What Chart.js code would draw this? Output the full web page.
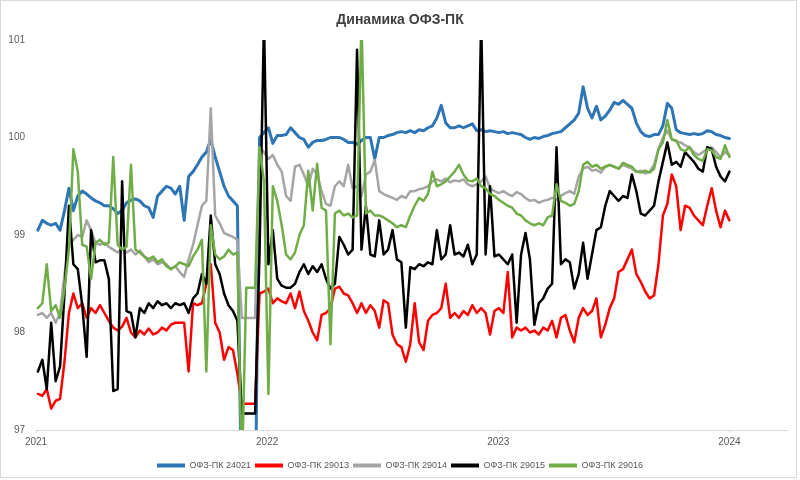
<!DOCTYPE html>
<html>
<head>
<meta charset="utf-8">
<script src="https://cdn.jsdelivr.net/npm/chart.js@4/dist/chart.umd.min.js"></script>
<style>
html,body{margin:0;padding:0;background:#fff;}
#wrap{width:800px;height:480px;}
</style>
</head>
<body>
<div id="wrap"><canvas id="c" width="800" height="480"></canvas></div>
<script>
const titleText = "Динамика ОФЗ-ПК";
const seriesNames = ["ОФЗ-ПК 24021", "ОФЗ-ПК 29013", "ОФЗ-ПК 29014", "ОФЗ-ПК 29015", "ОФЗ-ПК 29016"];
const yearTickDates = ["2021-01-01", "2022-01-01", "2023-01-01", "2024-01-01"];
const yearTickLabels = ["2021", "2022", "2023", "2024"];
const axisStart = "2021-01-01";
const axisLineEnd = "2024-04-03";
const axisEnd = "2024-04-12";

const dates = [
"2021-01-04","2021-01-11","2021-01-18","2021-01-25","2021-02-01","2021-02-08","2021-02-15","2021-02-22","2021-03-01","2021-03-08",
"2021-03-15","2021-03-22","2021-03-29","2021-04-05","2021-04-12","2021-04-19","2021-04-26","2021-05-03","2021-05-10","2021-05-17",
"2021-05-24","2021-05-31","2021-06-07","2021-06-14","2021-06-21","2021-06-28","2021-07-05","2021-07-12","2021-07-19","2021-07-26",
"2021-08-02","2021-08-09","2021-08-16","2021-08-23","2021-08-30","2021-09-06","2021-09-13","2021-09-20","2021-09-27","2021-10-04",
"2021-10-11","2021-10-18","2021-10-25","2021-11-01","2021-11-08","2021-11-15","2021-11-22","2021-11-29","2021-12-06","2021-12-13",
"2021-12-20","2021-12-27",
"2022-01-03","2022-01-10","2022-01-17","2022-01-24","2022-01-31","2022-02-07","2022-02-14","2022-02-21","2022-02-28","2022-03-07",
"2022-03-14","2022-03-21","2022-03-28","2022-04-04","2022-04-11","2022-04-18","2022-04-25","2022-05-02","2022-05-09","2022-05-16",
"2022-05-23","2022-05-30","2022-06-06","2022-06-13","2022-06-20","2022-06-27","2022-07-04","2022-07-11","2022-07-18","2022-07-25",
"2022-08-01","2022-08-08","2022-08-15","2022-08-22","2022-08-29","2022-09-05","2022-09-12","2022-09-19","2022-09-26","2022-10-03",
"2022-10-10","2022-10-17","2022-10-24","2022-10-31","2022-11-07","2022-11-14","2022-11-21","2022-11-28","2022-12-05","2022-12-12",
"2022-12-19","2022-12-26",
"2023-01-02","2023-01-09","2023-01-16","2023-01-23","2023-01-30","2023-02-06","2023-02-13","2023-02-20","2023-02-27","2023-03-06",
"2023-03-13","2023-03-20","2023-03-27","2023-04-03","2023-04-10","2023-04-17","2023-04-24","2023-05-01","2023-05-08","2023-05-15",
"2023-05-22","2023-05-29","2023-06-05","2023-06-12","2023-06-19","2023-06-26","2023-07-03","2023-07-10","2023-07-17","2023-07-24",
"2023-07-31","2023-08-07","2023-08-14","2023-08-21","2023-08-28","2023-09-04","2023-09-11","2023-09-18","2023-09-25","2023-10-02",
"2023-10-09","2023-10-16","2023-10-23","2023-10-30","2023-11-06","2023-11-13","2023-11-20","2023-11-27","2023-12-04","2023-12-11",
"2023-12-18","2023-12-25",
"2024-01-01"
];

const ofz24021 = [
99.05, 99.15, 99.12, 99.1, 99.12, 99.05, 99.25, 99.48, 99.25, 99.4,
99.45, 99.42, 99.38, 99.35, 99.33, 99.3, 99.3, 99.27, 99.22, 99.25,
99.33, 99.36, 99.37, 99.35, 99.3, 99.28, 99.18, 99.4, 99.45, 99.5,
99.48, 99.42, 99.5, 99.15, 99.6, 99.65, 99.72, 99.8, 99.85, 99.98,
99.8, 99.65, 99.5, 99.4, 99.35, 99.3, 96, 96, 96, 96,
100.0, 100.05, 100.1, 99.94, 100.02, 100.02, 100.03, 100.1, 100.05, 100.0,
99.98, 99.9, 99.95, 99.97, 99.97, 99.98, 100.0, 100.0, 100.0, 99.98,
99.95, 99.95, 99.93, 99.97, 100.0, 100.0, 99.78, 100.0, 100.0, 100.02,
100.03, 100.05, 100.06, 100.05, 100.07, 100.05, 100.08, 100.07, 100.1, 100.12,
100.2, 100.33, 100.15, 100.1, 100.1, 100.12, 100.1, 100.12, 100.14, 100.07,
100.08, 100.06, 100.07, 100.06, 100.05, 100.06, 100.04, 100.05, 100.04, 100.03,
100.0, 99.98, 100.0, 99.99, 100.01, 100.02, 100.04, 100.05, 100.06, 100.1,
100.14, 100.18, 100.25, 100.52, 100.3, 100.2, 100.32, 100.18, 100.22, 100.28,
100.36, 100.34, 100.38, 100.34, 100.3, 100.15, 100.06, 100.02, 100.01, 100.03,
100.03, 100.12, 100.35, 100.3, 100.08, 100.05, 100.04, 100.03, 100.04, 100.03,
100.04, 100.07, 100.06, 100.03, 100.02, 100.0, 99.99
];

const ofz29013 = [
97.37, 97.35, 97.42, 97.22, 97.3, 97.32, 97.7, 98.2, 98.4, 98.25,
98.3, 98.15, 98.25, 98.2, 98.28, 98.2, 98.12, 98.05, 98.02, 98.06,
98.15, 98.0, 97.95, 98.02, 97.98, 98.04, 97.98, 98.0, 98.05, 98.02,
98.08, 98.1, 98.1, 98.1, 97.6, 98.3, 98.28, 98.3, 98.5, 98.7,
98.1, 98.0, 97.72, 97.85, 97.82, 97.58, 97.27, 97.27, 97.27, 97.27,
98.4, 98.42, 98.45, 98.3, 98.35, 98.32, 98.3, 98.4, 98.25, 98.42,
98.22, 98.12, 98.0, 97.92, 98.18, 98.2, 98.25, 98.45, 98.47, 98.4,
98.38, 98.3, 98.2, 98.3, 98.2, 98.28, 98.22, 98.05, 98.33, 98.3,
97.98, 97.88, 97.85, 97.7, 97.88, 98.3, 97.9, 97.82, 98.12, 98.18,
98.2, 98.25, 98.5, 98.15, 98.2, 98.15, 98.22, 98.18, 98.28, 98.2,
98.25, 98.2, 97.98, 98.22, 98.25, 98.2, 98.62, 97.95, 98.05, 98.02,
98.05, 98.0, 98.02, 97.98, 98.05, 98.02, 98.12, 97.95, 98.15, 98.18,
98.02, 97.9, 98.15, 98.25, 98.18, 98.22, 98.35, 97.95, 98.08, 98.25,
98.35, 98.62, 98.65, 98.75, 98.85, 98.6, 98.52, 98.42, 98.35, 98.38,
98.7, 99.2, 99.32, 99.62, 99.5, 99.05, 99.3, 99.28, 99.2, 99.15,
99.1, 99.3, 99.48, 99.25, 99.08, 99.25, 99.15
];

const ofz29014 = [
98.18, 98.2, 98.15, 98.2, 98.1, 98.2, 98.6, 98.9, 98.95, 99.0,
98.98, 99.15, 99.05, 98.92, 98.9, 98.92, 98.88, 98.85, 98.82, 98.86,
98.82, 98.85, 98.8, 98.84, 98.78, 98.72, 98.75, 98.7, 98.72, 98.7,
98.65, 98.68, 98.62, 98.57, 98.75, 98.9, 99.1, 99.3, 99.35, 100.3,
99.2, 99.12, 99.02, 99.0, 98.98, 98.95, 98.15, 98.15, 98.15, 98.15,
99.9, 99.85, 99.78, 99.82, 99.72, 99.65, 99.4, 99.35, 99.7, 99.72,
99.62, 99.5, 99.68, 99.62, 99.45, 99.32, 99.3, 99.5, 99.55, 99.5,
99.72, 99.48, 99.5, 99.4, 99.62, 99.65, 99.77, 99.45, 99.42, 99.4,
99.38, 99.36, 99.4, 99.38, 99.45, 99.45, 99.47, 99.48, 99.5, 99.55,
99.57, 99.55, 99.58, 99.54, 99.56, 99.55, 99.57, 99.52, 99.5, 99.52,
99.55, 99.6, 99.48, 99.45, 99.43, 99.45, 99.42, 99.4, 99.44, 99.42,
99.38, 99.35, 99.36, 99.33, 99.35, 99.36, 99.38, 99.36, 99.4, 99.43,
99.45, 99.42, 99.6, 99.68, 99.7, 99.66, 99.67, 99.64, 99.7, 99.72,
99.7, 99.68, 99.72, 99.7, 99.68, 99.65, 99.66, 99.63, 99.65, 99.72,
99.88, 100.0, 100.07, 99.98, 99.96, 99.95, 99.92, 99.9, 99.85, 99.82,
99.85, 99.88, 99.9, 99.85, 99.8, 99.85, 99.82
];

const ofz29015 = [
97.6, 97.72, 97.42, 98.1, 97.5, 97.65, 98.4, 99.3, 98.7, 98.65,
98.28, 97.75, 99.05, 98.72, 98.74, 98.74, 98.55, 97.4, 97.42, 99.55,
98.22, 98.2, 97.95, 98.25, 98.2, 98.3, 98.25, 98.32, 98.28, 98.3,
98.25, 98.3, 98.28, 98.3, 98.2, 98.35, 98.4, 98.6, 98.5, 99.2,
98.7, 98.6, 98.4, 98.28, 98.22, 98.12, 97.17, 97.17, 97.17, 97.17,
98.82, 101.2, 98.7, 99.05, 98.55, 98.48, 98.46, 98.46, 98.5, 98.62,
98.7, 98.6, 98.68, 98.62, 98.7, 98.55, 98.45, 98.5, 98.98, 98.9,
98.8, 98.85, 100.9, 98.85, 99.3, 98.8, 98.78, 99.15, 98.8, 98.85,
99.05, 98.75, 98.72, 98.05, 98.67, 98.65, 98.7, 98.68, 98.72, 98.7,
99.05, 98.75, 98.8, 99.1, 98.8, 98.82, 98.78, 98.9, 98.7, 98.8,
101.2, 98.8, 99.5, 98.78, 98.8, 98.75, 98.7, 98.8, 98.1, 98.8,
99.02, 98.75, 98.08, 98.3, 98.35, 98.45, 98.5, 99.9, 98.7, 98.75,
98.72, 98.45, 98.6, 98.92, 98.55, 98.8, 99.05, 99.08, 99.3, 99.45,
99.4, 99.35, 99.4, 99.38, 99.62, 99.45, 99.22, 99.2, 99.25, 99.3,
99.55, 99.75, 99.95, 99.72, 99.75, 99.7, 99.85, 99.8, 99.75, 99.68,
99.65, 99.9, 99.88, 99.7, 99.6, 99.55, 99.65
];

const ofz29016 = [
98.25, 98.3, 98.7, 98.22, 98.28, 98.15, 98.45, 98.85, 99.88, 99.65,
98.9, 98.88, 98.55, 98.92, 98.95, 98.9, 98.92, 99.8, 98.9, 98.85,
98.88, 99.72, 98.85, 98.82, 98.78, 98.75, 98.78, 98.72, 98.75, 98.68,
98.65, 98.68, 98.72, 98.7, 98.68, 98.78, 98.85, 98.95, 97.6, 99.1,
98.8, 98.75, 98.78, 98.85, 98.8, 98.82, 96.5, 98.46, 98.46, 98.46,
99.9, 99.55, 97.37, 99.5, 99.35, 99.1, 98.8, 98.75, 98.82, 99.0,
99.1, 99.66, 99.25, 99.73, 99.28, 99.25, 97.88, 99.22, 99.25, 99.2,
99.22, 99.18, 99.2, 101.2, 99.22, 99.25, 99.2, 99.2, 99.18, 99.15,
99.12, 99.08, 99.1, 99.08, 99.2, 99.3, 99.38, 99.35, 99.42, 99.65,
99.5, 99.52, 99.55, 99.6, 99.65, 99.72, 99.62, 99.56, 99.55, 99.58,
99.5, 99.48, 99.42, 99.4, 99.36, 99.33, 99.3, 99.28, 99.22, 99.2,
99.15, 99.12, 99.1, 99.12, 99.1, 99.18, 99.2, 99.52, 99.35, 99.33,
99.3, 99.32, 99.45, 99.72, 99.75, 99.7, 99.72, 99.68, 99.7, 99.72,
99.7, 99.68, 99.74, 99.72, 99.7, 99.65, 99.64, 99.66, 99.64, 99.68,
99.88, 99.95, 100.18, 99.98, 99.97, 99.88, 99.86, 99.9, 99.82, 99.78,
99.76, 99.88, 99.87, 99.8, 99.78, 99.92, 99.8
];

const seriesValues = [ofz24021, ofz29013, ofz29014, ofz29015, ofz29016];
const seriesColors = ["#2E75B6", "#FF0000", "#A5A5A5", "#000000", "#70AD47"];
const seriesWidths = [3, 2.5, 2.5, 2.5, 2.5];

const xs = dates.map(d => Date.parse(d));
const tickVals = yearTickDates.map(d => Date.parse(d));

const datasets = seriesNames.map((name, k) => ({
  label: name,
  data: seriesValues[k].map((v, i) => ({x: xs[i], y: v})),
  borderColor: seriesColors[k],
  backgroundColor: seriesColors[k],
  borderWidth: seriesWidths[k],
  pointRadius: 0,
  pointHoverRadius: 0,
  tension: 0,
  fill: false,
  borderJoinStyle: 'round',
  borderCapStyle: 'round',
  clip: 0,
  order: seriesNames.length - k
}));

const frame = {
  id: 'frame',
  beforeDatasetsDraw(chart) {
    const ctx = chart.ctx;
    const xs = chart.scales.x;
    const y = Math.round(chart.chartArea.bottom) + 0.5;
    ctx.save();
    ctx.strokeStyle = '#d9d9d9';
    ctx.lineWidth = 1;
    ctx.beginPath();
    ctx.moveTo(chart.chartArea.left, y);
    ctx.lineTo(xs.getPixelForValue(Date.parse(axisLineEnd)), y);
    ctx.stroke();
    ctx.restore();
  },
  afterDraw(chart) {
    const ctx = chart.ctx;
    ctx.save();
    ctx.strokeStyle = '#d9d9d9';
    ctx.lineWidth = 1;
    ctx.strokeRect(0.5, 0.5, 796, 477);
    ctx.restore();
  }
};

const FONT = "'Liberation Sans', Arial, sans-serif";

new Chart(document.getElementById('c'), {
  type: 'line',
  data: { datasets },
  plugins: [frame],
  options: {
    responsive: false,
    animation: false,
    events: [],
    layout: { padding: { left: 6, right: 6, top: 0, bottom: 0 } },
    plugins: {
      title: {
        display: true,
        text: titleText,
        color: '#404040',
        font: { family: FONT, size: 14, weight: 'bold' },
        padding: { top: 12, bottom: 11.2 }
      },
      legend: {
        position: 'bottom',
        labels: {
          color: '#595959',
          font: { family: FONT, size: 9 },
          boxWidth: 28,
          boxHeight: 4,
          padding: 4,
          sort: (a, b) => a.datasetIndex - b.datasetIndex,
          generateLabels(chart) {
            const items = Chart.defaults.plugins.legend.labels.generateLabels(chart);
            items.forEach(it => { it.lineWidth = 0; });
            return items;
          }
        }
      },
      tooltip: { enabled: false }
    },
    scales: {
      x: {
        type: 'linear',
        min: Date.parse(axisStart),
        max: Date.parse(axisEnd),
        afterBuildTicks(scale) {
          scale.ticks = tickVals.map(v => ({ value: v }));
        },
        afterFit(scale) { scale.height = 27; },
        border: { display: false },
        grid: { display: true, drawOnChartArea: false, drawTicks: true, tickLength: 3, color: '#d9d9d9' },
        ticks: {
          autoSkip: false,
          maxRotation: 0,
          color: '#595959',
          font: { family: FONT, size: 10 },
          padding: 3,
          callback(v) {
            const idx = tickVals.indexOf(v);
            return idx >= 0 ? yearTickLabels[idx] : '';
          }
        }
      },
      y: {
        min: 97,
        max: 101,
        afterFit(scale) { scale.width = 30; },
        border: { display: false },
        grid: { display: false, drawTicks: false },
        ticks: {
          stepSize: 1,
          color: '#595959',
          font: { family: FONT, size: 10 },
          padding: 11
        }
      }
    }
  }
});
</script>
</body>
</html>
